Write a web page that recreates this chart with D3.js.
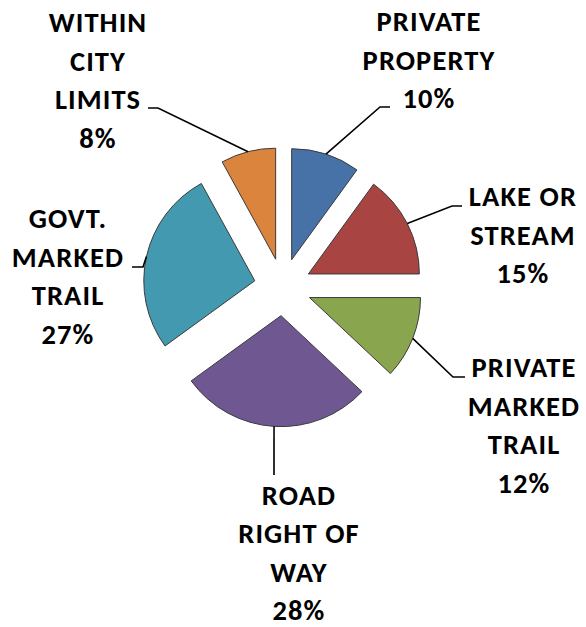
<!DOCTYPE html>
<html>
<head>
<meta charset="utf-8">
<script src="https://cdn.jsdelivr.net/npm/d3@7"></script>
<style>
  html, body { margin: 0; padding: 0; background: #fff; }
  svg { display: block; }
</style>
</head>
<body>
<svg id="chart" width="586" height="627"></svg>
<script>
// ---- data ----
const categories = ["PRIVATE PROPERTY", "LAKE OR STREAM", "PRIVATE MARKED TRAIL",
                    "ROAD RIGHT OF WAY", "GOVT. MARKED TRAIL", "WITHIN CITY LIMITS"];
const labelLines = [["PRIVATE", "PROPERTY"], ["LAKE OR", "STREAM"], ["PRIVATE", "MARKED", "TRAIL"],
                    ["ROAD", "RIGHT OF", "WAY"], ["GOVT.", "MARKED", "TRAIL"], ["WITHIN", "CITY", "LIMITS"]];
const values = [10, 15, 12, 28, 27, 8];
const colors = ["#4672A8", "#A84542", "#89A54E", "#6F5892", "#4399B0", "#DA843D"];

// ---- layout ----
const W = 586, H = 627;
const cx = 282.8, cy = 287, R = 111, explode = 28.7;
const fontSize = 28.5, letterSpacing = 1.1, lineGap = 38.7;
// label placement: text centre x, first baseline y, leader elbow, leader end
const labelLayout = [
  { x: 429, y: 31,  elbow: [380, 107], end: [390, 107] },
  { x: 523, y: 206, elbow: [452, 206], end: [462, 206] },
  { x: 524, y: 377, elbow: [453, 377], end: [465, 377] },
  { x: 299, y: 505, elbow: [274, 475], end: [274, 475] },
  { x: 68,  y: 228, elbow: [143, 267], end: [132, 267] },
  { x: 98,  y: 32,  elbow: [158, 108], end: [148, 108] }
];

const svg = d3.select("#chart");
const pie = d3.pie().sort(null).value(d => d);
const arcs = pie(values);
const arc = d3.arc().innerRadius(0).outerRadius(R);

const g = svg.append("g").attr("transform", `translate(${cx},${cy})`);

const off = d => {
  const m = (d.startAngle + d.endAngle) / 2;
  return [explode * Math.sin(m), -explode * Math.cos(m)];
};

g.selectAll("path.slice").data(arcs).join("path")
  .attr("class", "slice")
  .attr("d", arc)
  .attr("transform", d => { const o = off(d); return `translate(${o[0]},${o[1]})`; })
  .attr("fill", (d, i) => colors[i])
  .attr("stroke", "#3a3a3a")
  .attr("stroke-width", 1);

// leader lines
arcs.forEach((d, i) => {
  const m = (d.startAngle + d.endAngle) / 2;
  const o = off(d);
  const sx = cx + o[0] + R * Math.sin(m);
  const sy = cy + o[1] - R * Math.cos(m);
  const L = labelLayout[i];
  svg.append("path")
    .attr("d", d3.line()([[sx, sy], L.elbow, L.end]))
    .attr("fill", "none")
    .attr("stroke", "#000")
    .attr("stroke-width", 1.6);
});

// labels
arcs.forEach((d, i) => {
  const L = labelLayout[i];
  const lines = labelLines[i].concat([values[i] + "%"]);
  const t = svg.append("text")
    .attr("text-anchor", "middle")
    .attr("font-family", "Carlito, Lato, 'Open Sans', sans-serif")
    .attr("font-weight", "bold")
    .attr("font-size", fontSize)
    .attr("letter-spacing", letterSpacing)
    .attr("fill", "#000");
  lines.forEach((ln, k) => {
    t.append("tspan").attr("x", L.x).attr("y", L.y + k * (i === 3 ? 38.3 : lineGap)).text(ln);
  });
});
</script>
</body>
</html>
